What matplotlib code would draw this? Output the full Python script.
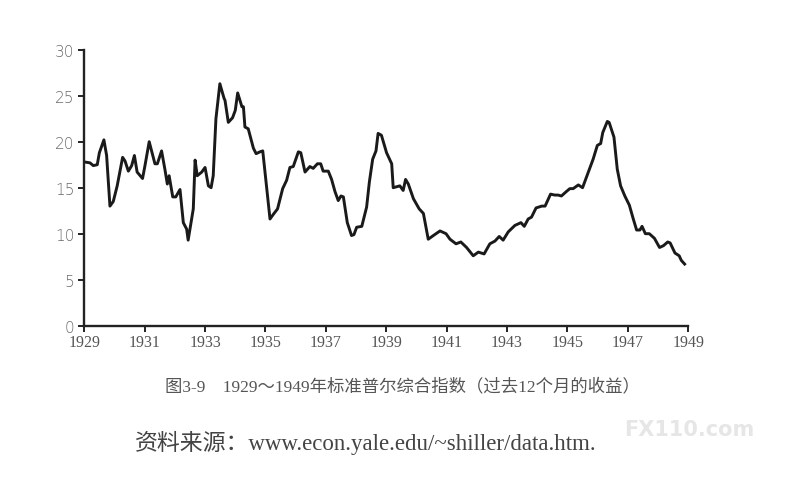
import matplotlib
matplotlib.use("Agg")
import matplotlib.pyplot as plt

years = [1929.0, 1929.19, 1929.3, 1929.43, 1929.5, 1929.65, 1929.74, 1929.85, 1929.96,
         1930.09, 1930.27, 1930.35, 1930.46, 1930.57, 1930.66, 1930.75, 1930.93,
         1931.01, 1931.15, 1931.34, 1931.42, 1931.56, 1931.67, 1931.75, 1931.81, 1931.93,
         1932.03, 1932.17, 1932.28, 1932.39, 1932.44, 1932.61, 1932.67, 1932.74, 1932.89,
         1933.0, 1933.11, 1933.2, 1933.27, 1933.36, 1933.49, 1933.63, 1933.66, 1933.77,
         1933.91, 1934.0, 1934.08, 1934.22, 1934.27, 1934.32, 1934.43, 1934.6, 1934.69,
         1934.82, 1934.91, 1935.15, 1935.26, 1935.4, 1935.57, 1935.7, 1935.81, 1935.92,
         1936.09, 1936.17, 1936.31, 1936.47, 1936.58, 1936.72, 1936.83, 1936.91, 1937.08,
         1937.19, 1937.3, 1937.41, 1937.5, 1937.58, 1937.71, 1937.85, 1937.93, 1938.02,
         1938.19, 1938.35, 1938.44, 1938.55, 1938.66, 1938.73, 1938.84, 1939.01, 1939.18,
         1939.23, 1939.45, 1939.56, 1939.64, 1939.73, 1939.9, 1940.09, 1940.23, 1940.39,
         1940.56, 1940.78, 1940.98, 1941.11, 1941.31, 1941.47, 1941.66, 1941.88, 1942.05,
         1942.24, 1942.43, 1942.6, 1942.74, 1942.87, 1943.04, 1943.26, 1943.46, 1943.57,
         1943.7, 1943.81, 1943.96, 1944.15, 1944.26, 1944.44, 1944.58, 1944.69, 1944.8,
         1944.97, 1945.08, 1945.19, 1945.36, 1945.5, 1945.69, 1945.85, 1945.99, 1946.1,
         1946.17, 1946.32, 1946.38, 1946.54, 1946.65, 1946.76, 1946.9, 1947.05, 1947.18,
         1947.29, 1947.4, 1947.47, 1947.58, 1947.71, 1947.88, 1948.05, 1948.18, 1948.32,
         1948.4, 1948.56, 1948.7, 1948.77, 1948.88]

earnings = [17.8, 17.7, 17.4, 17.5, 18.8, 20.2, 18.5, 13.0, 13.5,
            15.2, 18.3, 17.9, 16.8, 17.4, 18.5, 16.7, 16.0,
            17.4, 20.0, 17.6, 17.6, 19.0, 17.0, 15.4, 16.3, 14.0,
            14.0, 14.8, 11.2, 10.5, 9.3, 12.7, 18.0, 16.3, 16.7,
            17.2, 15.2, 15.0, 16.3, 22.5, 26.3, 24.7, 24.5, 22.1,
            22.6, 23.4, 25.3, 23.8, 23.8, 21.6, 21.4, 19.3, 18.7,
            18.9, 19.0, 11.6, 12.1, 12.7, 14.9, 15.8, 17.2, 17.3,
            18.9, 18.8, 16.7, 17.3, 17.1, 17.6, 17.6, 16.8, 16.8,
            15.9, 14.6, 13.6, 14.1, 14.0, 11.2, 9.8, 9.9, 10.7,
            10.8, 12.9, 15.6, 18.1, 19.0, 20.9, 20.7, 18.8, 17.6,
            15.0, 15.2, 14.7, 15.9, 15.4, 13.8, 12.7, 12.2, 9.4,
            9.8, 10.3, 10.0, 9.4, 8.9, 9.1, 8.5, 7.6, 8.0,
            7.8, 8.9, 9.2, 9.7, 9.3, 10.2, 10.9, 11.2, 10.8,
            11.6, 11.8, 12.8, 13.0, 13.0, 14.3, 14.2, 14.2, 14.1,
            14.6, 14.9, 14.9, 15.3, 15.0, 16.7, 18.1, 19.6, 19.8,
            21.0, 22.2, 22.1, 20.5, 17.0, 15.2, 14.1, 13.1, 11.6,
            10.4, 10.4, 10.8, 10.0, 10.0, 9.5, 8.5, 8.7, 9.1,
            9.0, 7.9, 7.6, 7.1, 6.7]

x_ticks = [1929, 1931, 1933, 1935, 1937, 1939, 1941, 1943, 1945, 1947, 1949]
y_ticks = [0, 5, 10, 15, 20, 25, 30]

caption = "图3-9　1929～1949年标准普尔综合指数（过去12个月的收益）"
source = "资料来源：www.econ.yale.edu/~shiller/data.htm."
watermark = "FX110.com"

serif_cjk = ["Liberation Serif", "Noto Sans CJK SC", "DejaVu Sans"]

fig = plt.figure(figsize=(7.92, 4.81), dpi=100)
ax = fig.add_axes([0.1064, 0.3208, 0.7626, 0.5738])

ax.plot(years, earnings, color="#1a1a1a", linewidth=2.1, solid_joinstyle="round")

ax.set_xlim(1929, 1949)
ax.set_ylim(0, 30)
ax.set_xticks(x_ticks)
ax.set_yticks(y_ticks)
ax.set_xticklabels([str(t) for t in x_ticks], fontfamily="Liberation Serif",
                   fontsize=11.5, color="#555555")
ax.set_yticklabels([str(t) for t in y_ticks], fontfamily="DejaVu Sans",
                   fontsize=11, color="#6a6a6a", fontweight="light")

for s in ["top", "right"]:
    ax.spines[s].set_visible(False)
for s in ["left", "bottom"]:
    ax.spines[s].set_linewidth(1.7)
    ax.spines[s].set_color("#222222")

ax.tick_params(axis="both", direction="out", length=4, width=1.4, color="#222222")
ax.tick_params(axis="x", pad=2)
ax.tick_params(axis="y", pad=3)

fig.text(0.508, 0.195, caption, ha="center", va="center", fontsize=12.5,
         color="#555555", family=serif_cjk)
fig.text(0.17, 0.08, source, ha="left", va="center", fontsize=16.5,
         color="#444444", family=serif_cjk)
fig.text(0.788, 0.105, watermark, ha="left", va="center", fontsize=15,
         color="#e6e6e6", fontweight="bold", family="DejaVu Sans")

fig.savefig("out.png", dpi=100)
